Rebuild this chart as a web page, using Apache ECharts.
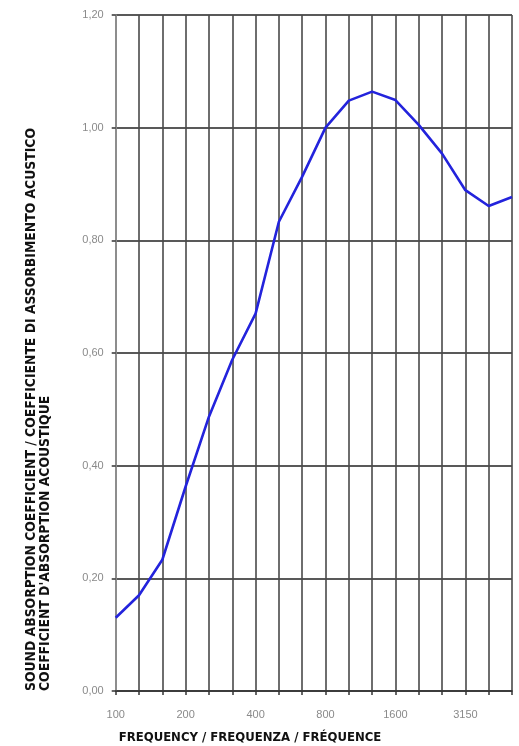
<!DOCTYPE html>
<html>
<head>
<meta charset="utf-8">
<script src="https://cdn.jsdelivr.net/npm/echarts@6/dist/echarts.min.js"></script>
<style>
  html, body { margin: 0; padding: 0; background: #fff; }
  #chart { width: 519px; height: 746px; }
</style>
</head>
<body>
<div id="chart"></div>
<script>
// Third-octave band centre frequencies (Hz)
const frequencies = ['100', '125', '160', '200', '250', '315', '400', '500', '630',
  '800', '1000', '1250', '1600', '2000', '2500', '3150', '4000', '5000'];

// Sound absorption coefficient per band
const absorption = [0.13, 0.17, 0.233, 0.363, 0.487, 0.588, 0.670, 0.833, 0.913,
  1.00, 1.048, 1.064, 1.049, 1.005, 0.954, 0.889, 0.861, 0.877];

// Bands that carry a frequency label under the axis
const labelledBands = ['100', '200', '400', '800', '1600', '3150'];

const xTitle = 'FREQUENCY / FREQUENZA / FRÉQUENCE';
const yTitleLines = [
  'SOUND ABSORPTION COEFFICIENT / COEFFICIENTE DI ASSORBIMENTO ACUSTICO',
  "COEFFICIENT D'ABSORPTION ACOUSTIQUE"
];

const titleFont = '"DejaVu Sans Condensed", "Liberation Sans Narrow", "DejaVu Sans", sans-serif';

const chart = echarts.init(document.getElementById('chart'), null, { renderer: 'canvas' });

chart.setOption({
  animation: false,
  backgroundColor: '#ffffff',
  grid: { left: 115.7, right: 7, top: 15, bottom: 55, containLabel: false },
  xAxis: {
    type: 'category',
    data: frequencies,
    boundaryGap: false,
    axisLine: { show: true, lineStyle: { color: '#333', width: 1.5 } },
    axisTick: { show: true, interval: 0, length: 4, lineStyle: { color: '#333', width: 1.5 } },
    axisLabel: {
      interval: 0,
      margin: 18,
      color: '#8a8a8a',
      fontFamily: '"Liberation Sans", Arial, sans-serif',
      fontSize: 11,
      formatter: v => labelledBands.includes(v) ? v : ''
    },
    splitLine: { show: true, interval: 0, lineStyle: { color: '#4a4a4a', width: 1.6 } }
  },
  yAxis: {
    type: 'value',
    min: 0,
    max: 1.2,
    interval: 0.2,
    axisLine: { show: true, lineStyle: { color: '#999', width: 1.5 } },
    axisTick: { show: true, length: 4, lineStyle: { color: '#333', width: 1.5 } },
    axisLabel: {
      margin: 12,
      color: '#8a8a8a',
      fontFamily: '"Liberation Sans", Arial, sans-serif',
      fontSize: 11,
      formatter: v => v.toFixed(2).replace('.', ',')
    },
    splitLine: { show: true, lineStyle: { color: '#222', width: 1.5 } }
  },
  series: [{
    type: 'line',
    data: absorption,
    symbol: 'none',
    smooth: false,
    lineStyle: { color: '#2323dc', width: 2.6 }
  }],
  graphic: [
    {
      type: 'text',
      x: 250,
      y: 738,
      style: {
        text: xTitle,
        font: 'bold 13px ' + titleFont,
        fill: '#111',
        textAlign: 'center',
        textVerticalAlign: 'middle'
      }
    },
    {
      type: 'text',
      x: 31,
      y: 691,
      rotation: Math.PI / 2,
      style: {
        text: yTitleLines[0],
        font: 'bold 13.8px ' + titleFont,
        fill: '#111',
        textAlign: 'left',
        textVerticalAlign: 'middle'
      }
    },
    {
      type: 'text',
      x: 45,
      y: 691,
      rotation: Math.PI / 2,
      style: {
        text: yTitleLines[1],
        font: 'bold 13.8px ' + titleFont,
        fill: '#111',
        textAlign: 'left',
        textVerticalAlign: 'middle'
      }
    }
  ]
});
</script>
</body>
</html>
